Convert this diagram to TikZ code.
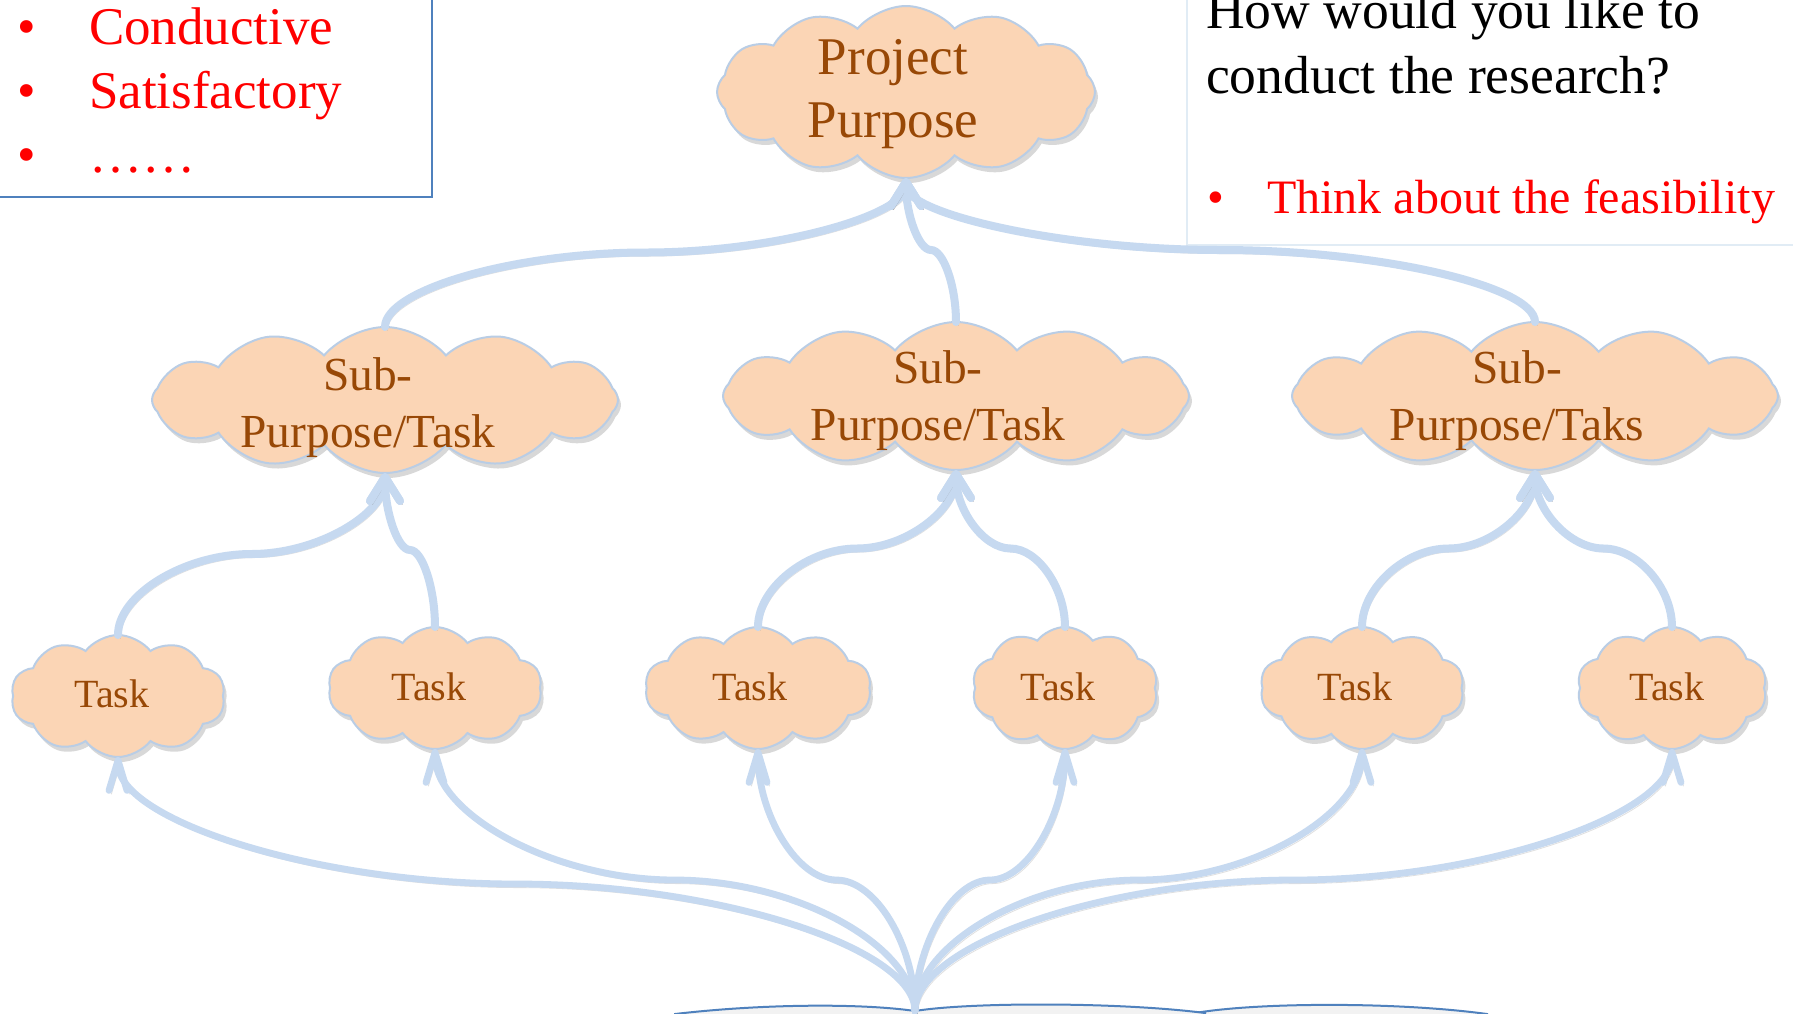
\documentclass[tikz,border=0pt]{standalone}
\usepackage{fontspec}
\setmainfont{Liberation Serif}
\usetikzlibrary{shapes.symbols,shadows,arrows.meta,calc}

\definecolor{puff}{RGB}{251,213,181}
\definecolor{puffline}{RGB}{185,205,229}
\definecolor{linkblue}{RGB}{198,217,240}
\definecolor{brownish}{RGB}{152,72,6}
\definecolor{boxblue}{RGB}{79,129,189}
\definecolor{paleblue}{RGB}{225,236,245}
\definecolor{pagegray}{RGB}{242,242,242}

\begin{document}
\begin{tikzpicture}[x=0.5pt, y=-0.5pt,
    every node/.style={inner sep=0pt, outer sep=0pt},
    puffy/.style={cloud, cloud puffs=12, cloud puff arc=100, cloud ignores aspect,
        fill=puff, draw=puffline, line width=1pt,
        drop shadow={shadow xshift=1.5pt, shadow yshift=-2.5pt, opacity=0.3}},
    smallpuffy/.style={puffy, cloud puffs=10, cloud puff arc=105},
    bigtxt/.style={text=brownish, align=center, font=\fontsize{26.5}{31.5}\selectfont},
    subtxt/.style={text=brownish, align=center, font=\fontsize{23.7}{28.5}\selectfont},
    tasktxt/.style={text=brownish, font=\fontsize{20}{24}\selectfont},
    redtxt/.style={text=red, anchor=base west, font=\fontsize{26.5}{32}\selectfont},
    bul/.style={text=red, anchor=base, font=\fontsize{26.5}{32}\selectfont},
    curved link/.style={to path={let \p1=(\tikztostart), \p2=(\tikztotarget) in
        .. controls (\x1,{0.75*\y1+0.25*\y2}) and ({0.75*\x1+0.25*\x2},{0.5*\y1+0.5*\y2})
        .. ({0.5*\x1+0.5*\x2},{0.5*\y1+0.5*\y2})
        .. controls ({0.25*\x1+0.75*\x2},{0.5*\y1+0.5*\y2}) and (\x2,{0.25*\y1+0.75*\y2})
        .. (\tikztotarget)}},
    link/.style={draw=linkblue, line width=4pt, line cap=round,
        -{Straight Barb[length=12pt, width=15pt, round]},
        preaction={draw=black!50, opacity=0.25, transform canvas={shift={(1.2pt,-1.8pt)}}}},
    fanlink/.style={link, line width=3.4pt, -{Straight Barb[length=15pt, width=9pt, round]}}
]
\useasboundingbox (0,0) rectangle (1793,1013);
\clip (0,0) rectangle (1793,1013);
\fill[white] (0,0) rectangle (1793,1013);

% boxes at the top
\draw[boxblue, line width=1pt, fill=white] (-10,-10) rectangle (432,197);
\draw[paleblue, line width=1pt, fill=white] (1187,-10) rectangle (1803,245);

\node[bul] (b1) at (27,44) {•};
\node[redtxt] (l1) at (89,44) {Conductive};
\node[bul] (b2) at (27,108) {•};
\node[redtxt] (l2) at (89,108) {Satisfactory};
\node[bul] (b3) at (27,172) {•};
\node[redtxt] (l3) at (89,172) {……};

\node[anchor=base west, font=\fontsize{26.8}{32}\selectfont] (q1) at (1206,28) {How would you like to};
\node[anchor=base west, font=\fontsize{26.8}{32}\selectfont] (q2) at (1206,93) {conduct the research?};
\node[bul, font=\fontsize{24}{29}\selectfont] (b4) at (1216,213) {•};
\node[redtxt, font=\fontsize{24}{29}\selectfont] (r1) at (1267,213) {Think about the feasibility};

% the book at the bottom
\coordinate (spine) at (915,1011);
\filldraw[fill=pagegray, draw=boxblue, line width=1pt]
    (1195,1013) .. controls (1260,1002) and (1400,1002) .. (1487,1014) -- (1487,1030) -- (1195,1030) -- cycle;
\filldraw[fill=pagegray, draw=boxblue, line width=1pt]
    (675,1014) .. controls (760,1004) and (860,1003) .. (spine)
    .. controls (970,1002) and (1120,1002) .. (1205,1013) -- (1205,1030) -- (675,1030) -- cycle;

% clouds
\node[puffy, minimum width=189pt, minimum height=86pt] (p0) at (906,92) {};
\node[bigtxt] (p0txt) at (893,94) {Project\\Purpose};

\node[puffy, minimum width=233pt, minimum height=73pt] (s1) at (385,400) {};
\node[subtxt] (s1txt) at (368,408) {Sub-\\Purpose/Task};
\node[puffy, minimum width=233pt, minimum height=74pt] (s2) at (956,396) {};
\node[subtxt] (s2txt) at (938,401) {Sub-\\Purpose/Task};
\node[puffy, minimum width=243pt, minimum height=74pt] (s3) at (1535,396) {};
\node[subtxt] (s3txt) at (1517,401) {Sub-\\Purpose/Taks};

\node[smallpuffy, minimum width=107pt, minimum height=61pt] (t1) at (118,696) {};
\node[tasktxt] (t1txt) at (112,694) {Task};
\node[smallpuffy, minimum width=107pt, minimum height=61pt] (t2) at (435,688) {};
\node[tasktxt] (t2txt) at (429,687) {Task};
\node[smallpuffy, minimum width=113pt, minimum height=61pt] (t3) at (758,688) {};
\node[tasktxt] (t3txt) at (750,687) {Task};
\node[smallpuffy, minimum width=93pt, minimum height=61pt] (t4) at (1065,688) {};
\node[tasktxt] (t4txt) at (1058,687) {Task};
\node[smallpuffy, minimum width=102pt, minimum height=61pt] (t5) at (1362,688) {};
\node[tasktxt] (t5txt) at (1355,687) {Task};
\node[smallpuffy, minimum width=95pt, minimum height=61pt] (t6) at (1672,688) {};
\node[tasktxt] (t6txt) at (1667,687) {Task};

% links up to the purpose
\draw[link] (s1.north) to[curved link] (p0.south);
\draw[link] (s2.north) to[curved link] (p0.south);
\draw[link] (s3.north) to[curved link] (p0.south);

\draw[link] (t1.north) to[curved link] (s1.south);
\draw[link] (t2.north) to[curved link] (s1.south);
\draw[link] (t3.north) to[curved link] (s2.south);
\draw[link] (t4.north) to[curved link] (s2.south);
\draw[link] (t5.north) to[curved link] (s3.south);
\draw[link] (t6.north) to[curved link] (s3.south);

% fan out of the book
\draw[fanlink] (spine) to[curved link] (t1.south);
\draw[fanlink] (spine) to[curved link] (t2.south);
\draw[fanlink] (spine) to[curved link] (t3.south);
\draw[fanlink] (spine) to[curved link] (t4.south);
\draw[fanlink] (spine) to[curved link] (t5.south);
\draw[fanlink] (spine) to[curved link] (t6.south);
\end{tikzpicture}
\end{document}
